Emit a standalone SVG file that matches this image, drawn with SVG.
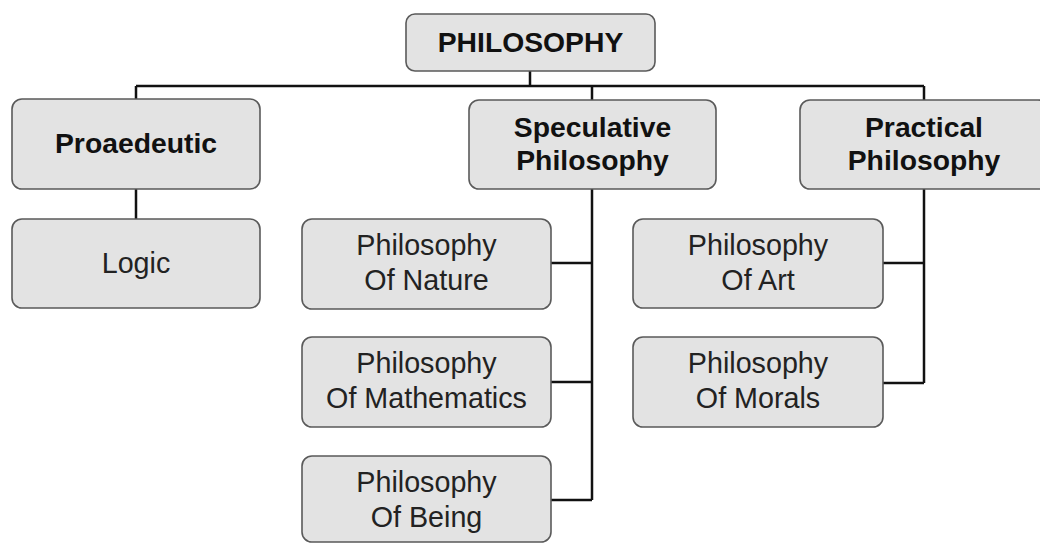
<svg xmlns="http://www.w3.org/2000/svg" width="1040" height="543" viewBox="0 0 1040 543">
<style>
.box{fill:#e3e3e3;stroke:#5a5a5a;stroke-width:1.6}
.b{font-family:"Liberation Sans",Arial,sans-serif;font-weight:bold;font-size:28.3px;fill:#111;text-anchor:middle}
.r{font-family:"Liberation Sans",Arial,sans-serif;font-size:28.7px;fill:#222;text-anchor:middle}
.c{fill:none;stroke:#111;stroke-width:2.5}
</style>
<rect width="1040" height="543" fill="#fff"/>
<g id="connectors">
<path class="c" d="M530 71V86M136 86H924M136 86V99M592 86V100M924 86V100M136 189V219M592 189V500M551 263H592M551 382H592M551 500H592M924 189V383M883 263H924M883 383H924"/>
</g>
<g id="philosophy"><rect class="box" x="406" y="14" width="249" height="57" rx="9"/><text class="b" x="530.5" y="52">PHILOSOPHY</text></g>
<g id="proaedeutic"><rect class="box" x="12" y="99" width="248" height="90" rx="10"/><text class="b" x="136" y="153">Proaedeutic</text></g>
<g id="logic"><rect class="box" x="12" y="219" width="248" height="89" rx="10"/><text class="r" x="136" y="273">Logic</text></g>
<g id="speculative"><rect class="box" x="469" y="100" width="247" height="89" rx="10"/><text class="b" x="592.5" y="137">Speculative</text><text class="b" x="592.5" y="170">Philosophy</text></g>
<g id="practical"><rect class="box" x="800" y="100" width="248" height="89" rx="10"/><text class="b" x="924" y="137">Practical</text><text class="b" x="924" y="170">Philosophy</text></g>
<g id="nature"><rect class="box" x="302" y="219" width="249" height="90" rx="10"/><text class="r" x="426.5" y="255">Philosophy</text><text class="r" x="426.5" y="290">Of Nature</text></g>
<g id="mathematics"><rect class="box" x="302" y="337" width="249" height="90" rx="10"/><text class="r" x="426.5" y="373">Philosophy</text><text class="r" x="426.5" y="408">Of Mathematics</text></g>
<g id="being"><rect class="box" x="302" y="456" width="249" height="86" rx="10"/><text class="r" x="426.5" y="492">Philosophy</text><text class="r" x="426.5" y="527">Of Being</text></g>
<g id="art"><rect class="box" x="633" y="219" width="250" height="89" rx="10"/><text class="r" x="758" y="255">Philosophy</text><text class="r" x="758" y="290">Of Art</text></g>
<g id="morals"><rect class="box" x="633" y="337" width="250" height="90" rx="10"/><text class="r" x="758" y="373">Philosophy</text><text class="r" x="758" y="408">Of Morals</text></g>
</svg>
